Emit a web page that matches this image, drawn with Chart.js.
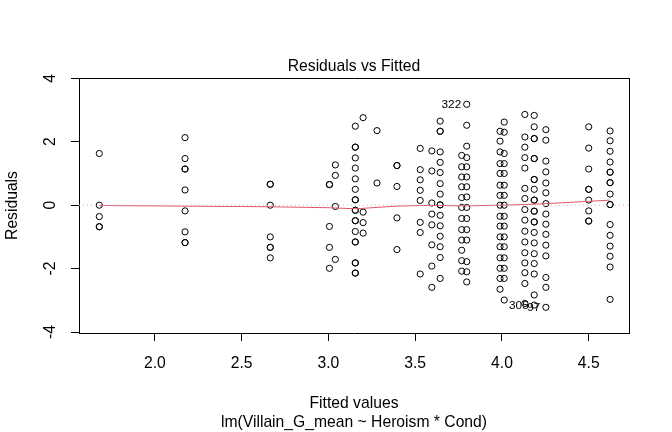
<!DOCTYPE html>
<html>
<head>
<meta charset="utf-8">
<script src="https://cdn.jsdelivr.net/npm/chart.js@4.4.1/dist/chart.umd.min.js"></script>
<style>
  html, body { margin: 0; padding: 0; background: #fff; }
  canvas { display: block; }
</style>
</head>
<body>
<canvas id="c" width="672" height="432"></canvas>
<script>
// ---------- data ----------
const xTickValues = [2.0, 2.5, 3.0, 3.5, 4.0, 4.5];
const yTickValues = [-4, -2, 0, 2, 4];
const X_MIN = 1.563, X_MAX = 4.732;
const Y_MIN = -4.03, Y_MAX = 4.01;

const fittedLevels = [1.680, 2.174, 2.665, 3.006, 3.040, 3.155, 3.200, 3.280, 3.395, 3.529, 3.596,
                      3.644, 3.768, 3.797, 3.989, 4.013, 4.132, 4.186, 4.253, 4.500, 4.623];

const res_1680 = [1.63, 0.00, -0.36, -0.68, -0.68];
const res_2174 = [2.13, 1.47, 1.14, 1.14, 0.48, -0.18, -0.84, -1.18, -1.18];
const res_2665 = [0.66, 0.66, 0.00, -1.00, -1.33, -1.33, -1.66];
const res_3006 = [0.65, 0.65, -0.67, -1.33, -1.99];
const res_3040 = [1.27, 0.94, -0.04, -1.71];
const res_3155 = [2.49, 1.83, 1.83, 1.49, 1.17, 0.83, 0.50, 0.17, 0.17, -0.16, -0.16, -0.49, -0.49,
                  -0.83, -1.16, -1.16, -1.82, -1.82, -2.14, -2.14];
const res_3200 = [2.76, -0.22, -0.55, -0.88];
const res_3280 = [2.35, 0.70];
const res_3395 = [1.25, 1.25, 0.59, -0.40, -1.40];
const res_3529 = [1.79, 1.12, 0.80, 0.47, 0.15, -0.54, -0.86, -2.17];
const res_3596 = [1.71, 1.08, 0.07, -0.28, -0.62, -1.25, -1.92, -2.59];
const res_3644 = [2.65, 2.33, 2.33, 1.68, 1.35, 1.03, 0.68, 0.35, 0.01, 0.01, -0.32, -0.65, -0.98,
                  -1.31, -1.65, -2.31];
const res_3768 = [1.57, 1.21, 0.89, 0.58, 0.24, -0.07, -0.42, -0.77, -1.10, -1.42, -1.75, -2.08];
const res_3797 = [3.18, 2.52, 1.86, 1.50, 1.21, 0.89, 0.58, 0.26, -0.07, -0.42, -0.77, -1.10,
                  -1.78, -2.10, -2.42];
const res_3989 = [2.33, 2.02, 1.68, 1.31, 1.00, 0.63, 0.31, 0.00, -0.35, -0.66, -1.00, -1.31,
                  -1.66, -1.99, -2.31, -2.65];
const res_4013 = [2.62, 2.30, 1.63, 1.31, 1.00, 0.63, 0.31, 0.00, -0.35, -0.66, -1.00, -1.31,
                  -1.66, -1.99, -2.31, -2.99];
const res_4132 = [2.86, 2.15, 1.83, 1.50, 1.17, 0.53, 0.21, -0.14, -0.47, -0.82, -1.16, -1.50,
                  -1.82, -2.13, -2.47, -3.10];
const res_4186 = [2.83, 2.47, 2.10, 2.10, 1.47, 1.47, 0.81, 0.81, 0.50, 0.16, 0.16, -0.19, -0.19,
                  -0.53, -0.53, -0.86, -1.19, -1.53, -1.84, -2.17, -2.83, -3.15];
const res_4253 = [2.38, 2.05, 1.39, 1.05, 0.70, 0.39, 0.05, -0.28, -0.60, -0.92, -1.26, -1.60,
                  -2.28, -2.59, -3.22];
const res_4500 = [2.47, 1.80, 1.14, 0.50, 0.50, 0.16, -0.18, -0.50, -0.50];
const res_4623 = [2.34, 2.03, 1.70, 1.36, 1.04, 1.04, 0.71, 0.71, 0.35, 0.02, 0.02, -0.61, -0.95,
                  -1.29, -1.61, -1.95, -2.97];

const residualGroups = [res_1680, res_2174, res_2665, res_3006, res_3040, res_3155, res_3200,
                        res_3280, res_3395, res_3529, res_3596, res_3644, res_3768, res_3797,
                        res_3989, res_4013, res_4132, res_4186, res_4253, res_4500, res_4623];

// lowess smooth (red line), one value per fitted level
const smoothY = [-0.01, -0.03, -0.05, -0.08, -0.09, -0.11, -0.10, -0.07, -0.03, -0.01, -0.01,
                 -0.01, -0.02, -0.02, 0.00, 0.00, 0.02, 0.03, 0.05, 0.12, 0.16];

// labelled extreme residuals
const idLabels = ['322', '305', '97'];
const idFitted = [3.797, 4.186, 4.253];
const idResid  = [3.18, -3.15, -3.22];

// ---------- build datasets ----------
const points = [];
fittedLevels.forEach((f, i) => residualGroups[i].forEach(r => points.push({ x: f, y: r })));
const smoothLine = fittedLevels.map((f, i) => ({ x: f, y: smoothY[i] }));
const zeroLine = [{ x: X_MIN, y: 0 }, { x: X_MAX, y: 0 }];

const FAMILY = "'Liberation Sans', Arial, Helvetica, sans-serif";
Chart.defaults.font.family = FAMILY;
Chart.defaults.color = '#000';

const baseFont = { family: FAMILY, size: 15.7, weight: 'normal', lineHeight: 1.2 };

const idLabelPlugin = {
  id: 'idLabels',
  afterDatasetsDraw(chart) {
    const { ctx, scales: { x, y } } = chart;
    ctx.save();
    ctx.font = '11.8px ' + FAMILY;
    ctx.fillStyle = '#000';
    ctx.textAlign = 'right';
    ctx.textBaseline = 'middle';
    idLabels.forEach((t, i) => {
      ctx.fillText(t, x.getPixelForValue(idFitted[i]) - 5.5, y.getPixelForValue(idResid[i]) + 0.5);
    });
    ctx.restore();
  }
};

const axisGrid = { display: true, drawOnChartArea: false, drawTicks: true, tickLength: 8,
                   color: '#000', lineWidth: 1 };
const axisBorder = { display: true, color: '#000', width: 1 };

new Chart(document.getElementById('c'), {
  type: 'scatter',
  data: {
    datasets: [
      { type: 'line', data: zeroLine, borderColor: '#BEBEBE', borderWidth: 1, borderDash: [1, 3],
        pointRadius: 0, fill: false, tension: 0 },
      { type: 'line', data: smoothLine, borderColor: '#DF536B', borderWidth: 1,
        pointRadius: 0, fill: false, tension: 0 },
      { type: 'scatter', data: points, pointStyle: 'circle', pointRadius: 3.1,
        borderColor: '#000', backgroundColor: 'rgba(0,0,0,0)', borderWidth: 1 }
    ]
  },
  options: {
    responsive: false,
    animation: false,
    events: [],
    layout: { padding: 0 },
    plugins: { legend: { display: false }, tooltip: { enabled: false }, title: { display: false } },
    scales: {
      x: {
        type: 'linear', position: 'bottom', min: X_MIN, max: X_MAX,
        afterBuildTicks: s => { s.ticks = xTickValues.map(v => ({ value: v })); },
        afterFit: s => { s.height = 99; },
        ticks: { font: baseFont, color: '#000', padding: 13, maxRotation: 0, autoSkip: false,
                 callback: v => Number(v).toFixed(1) },
        grid: axisGrid,
        border: axisBorder,
        title: { display: true, text: ['Fitted values', 'lm(Villain_G_mean ~ Heroism * Cond)'],
                 font: { family: FAMILY, size: 15.7, lineHeight: 1.223 }, color: '#000',
                 padding: { top: 0, bottom: 0 } }
      },
      y: {
        type: 'linear', position: 'left', min: Y_MIN, max: Y_MAX,
        afterBuildTicks: s => { s.ticks = yTickValues.map(v => ({ value: v })); },
        afterFit: s => { s.width = 79; },
        ticks: { font: baseFont, color: '#000', padding: 13, minRotation: 90, maxRotation: 90,
                 crossAlign: 'center', autoSkip: false, callback: v => String(v) },
        grid: axisGrid,
        border: axisBorder,
        title: { display: true, text: 'Residuals',
                 font: { family: FAMILY, size: 15.7, lineHeight: 1.223 }, color: '#000',
                 padding: { top: 3.3, bottom: 0 } }
      },
      x2: {
        type: 'linear', position: 'top', min: X_MIN, max: X_MAX,
        afterFit: s => { s.height = 78; },
        ticks: { display: false },
        grid: { display: false },
        border: axisBorder,
        title: { display: true, text: 'Residuals vs Fitted',
                 font: { family: FAMILY, size: 15.7, lineHeight: 1.2 }, color: '#000',
                 padding: { top: 57.3, bottom: 0 } }
      },
      y2: {
        type: 'linear', position: 'right', min: Y_MIN, max: Y_MAX,
        afterFit: s => { s.width = 43; },
        ticks: { display: false },
        grid: { display: false },
        border: axisBorder
      }
    }
  },
  plugins: [idLabelPlugin]
});
</script>
</body>
</html>
